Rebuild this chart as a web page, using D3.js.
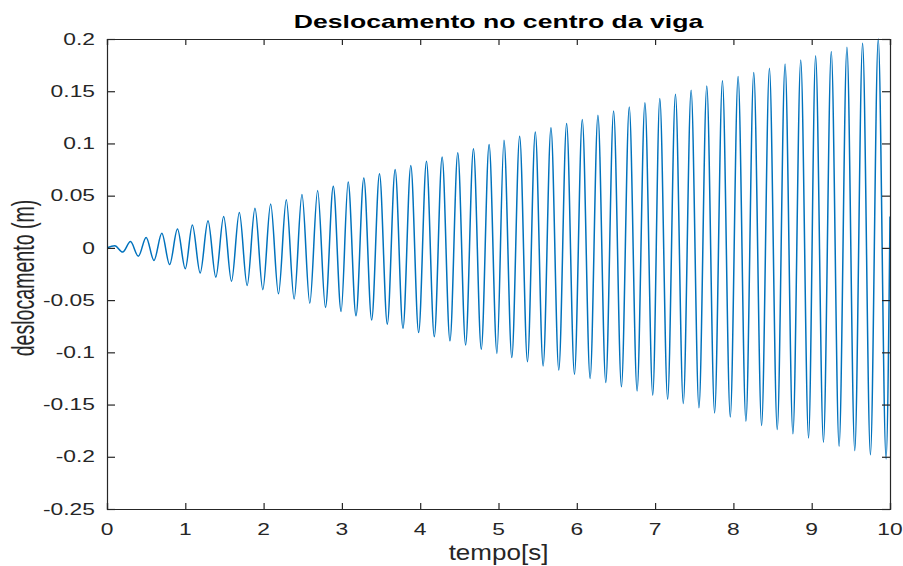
<!DOCTYPE html>
<html>
<head>
<meta charset="utf-8">
<script src="https://cdn.jsdelivr.net/npm/d3@7"></script>
<style>
  body { margin: 0; background: #fff; }
  svg { display: block; font-family: "Liberation Sans", Arial, sans-serif; }
</style>
</head>
<body>
<svg id="chart" width="903" height="566"></svg>
<script>
// values: local maxima and minima of the response
const peakTimes = [0.10, 0.30, 0.50, 0.70, 0.90, 1.09, 1.29, 1.49, 1.69, 1.89,
  2.09, 2.29, 2.49, 2.69, 2.89, 3.08, 3.28, 3.48, 3.68, 3.88,
  4.08, 4.28, 4.48, 4.68, 4.88, 5.07, 5.27, 5.47, 5.67, 5.87,
  6.07, 6.27, 6.47, 6.67, 6.87, 7.06, 7.26, 7.46, 7.66, 7.86,
  8.06, 8.26, 8.46, 8.66, 8.86, 9.05, 9.25, 9.45, 9.65, 9.85];
const peakValues = [0.002, 0.006, 0.010, 0.014, 0.018, 0.022, 0.026, 0.030, 0.034, 0.038,
  0.042, 0.046, 0.051, 0.055, 0.059, 0.063, 0.067, 0.071, 0.075, 0.079,
  0.083, 0.087, 0.091, 0.095, 0.099, 0.103, 0.107, 0.111, 0.115, 0.119,
  0.123, 0.127, 0.131, 0.135, 0.139, 0.143, 0.147, 0.151, 0.155, 0.160,
  0.164, 0.168, 0.172, 0.176, 0.180, 0.184, 0.188, 0.192, 0.196, 0.200];
const troughTimes = [0.20, 0.40, 0.60, 0.80, 1.00, 1.19, 1.39, 1.59, 1.79, 1.99,
  2.19, 2.39, 2.59, 2.79, 2.99, 3.18, 3.38, 3.58, 3.78, 3.98,
  4.18, 4.38, 4.58, 4.78, 4.98, 5.17, 5.37, 5.57, 5.77, 5.97,
  6.17, 6.37, 6.57, 6.77, 6.97, 7.16, 7.36, 7.56, 7.76, 7.96,
  8.16, 8.36, 8.56, 8.76, 8.96, 9.15, 9.35, 9.55, 9.75, 9.95];
const troughValues = [-0.004, -0.008, -0.012, -0.016, -0.020, -0.024, -0.028, -0.032, -0.036, -0.040,
  -0.044, -0.049, -0.053, -0.057, -0.061, -0.065, -0.069, -0.073, -0.077, -0.081,
  -0.085, -0.089, -0.093, -0.097, -0.101, -0.105, -0.109, -0.113, -0.117, -0.121,
  -0.125, -0.129, -0.133, -0.137, -0.141, -0.145, -0.149, -0.153, -0.158, -0.162,
  -0.166, -0.170, -0.174, -0.178, -0.182, -0.186, -0.190, -0.194, -0.198, -0.202];
const startPoint = [0, 0];
const endPoint = [10, 0.03];

const xTicks = [0, 1, 2, 3, 4, 5, 6, 7, 8, 9, 10];
const yTicks = [-0.25, -0.2, -0.15, -0.1, -0.05, 0, 0.05, 0.1, 0.15, 0.2];

const titleText = "Deslocamento no centro da viga";
const xLabelText = "tempo[s]";
const yLabelText = "deslocamento (m)";

// layout
const plotLeft = 107, plotRight = 890, plotTop = 39, plotBottom = 509;
const stretch = 1.4; // text in the picture is wider than it is tall
const axisColor = "#262626";
const lineColor = "#0072BD";

const svg = d3.select("#chart");

const x = d3.scaleLinear().domain([0, 10]).range([plotLeft, plotRight]);
const y = d3.scaleLinear().domain([-0.25, 0.2]).range([plotBottom, plotTop]);

// merge extrema into one series ordered by time
const points = [startPoint]
  .concat(peakTimes.map((t, i) => [t, peakValues[i]]))
  .concat(troughTimes.map((t, i) => [t, troughValues[i]]))
  .concat([endPoint])
  .sort((a, b) => a[0] - b[0]);

svg.append("clipPath").attr("id", "plot-clip")
  .append("rect")
  .attr("x", plotLeft).attr("y", plotTop - 1)
  .attr("width", plotRight - plotLeft).attr("height", plotBottom - plotTop + 2);

const line = d3.line()
  .x(d => x(d[0]))
  .y(d => y(d[1]))
  .curve(d3.curveMonotoneX);

svg.append("path")
  .datum(points)
  .attr("clip-path", "url(#plot-clip)")
  .attr("fill", "none")
  .attr("stroke", lineColor)
  .attr("stroke-width", 1.5)
  .attr("d", line);

// axes, MATLAB style: box with inward ticks on all four sides
const fmt = d => d === 0 ? "0" : String(d);

const gBottom = svg.append("g")
  .attr("transform", `translate(0,${plotBottom})`)
  .call(d3.axisTop(x).tickValues(xTicks).tickSize(6).tickFormat(""));
const gTop = svg.append("g")
  .attr("transform", `translate(0,${plotTop})`)
  .call(d3.axisBottom(x).tickValues(xTicks).tickSize(6).tickFormat(""));
const gLeft = svg.append("g")
  .attr("transform", `translate(${plotLeft},0)`)
  .call(d3.axisRight(y).tickValues(yTicks).tickSize(8).tickFormat(""));
const gRight = svg.append("g")
  .attr("transform", `translate(${plotRight},0)`)
  .call(d3.axisLeft(y).tickValues(yTicks).tickSize(8).tickFormat(""));

[gBottom, gTop, gLeft, gRight].forEach(g => {
  g.select(".domain").attr("stroke", axisColor).attr("stroke-width", 1.2);
  g.selectAll(".tick line").attr("stroke", axisColor).attr("stroke-width", 1.2);
});

// tick labels
svg.append("g").selectAll("text")
  .data(xTicks)
  .join("text")
  .attr("transform", d => `translate(${x(d)},535) scale(${stretch},1)`)
  .attr("text-anchor", "middle")
  .attr("font-size", 16.3)
  .attr("fill", axisColor)
  .text(fmt);

svg.append("g").selectAll("text")
  .data(yTicks)
  .join("text")
  .attr("transform", d => `translate(95,${y(d)}) scale(${stretch},1)`)
  .attr("text-anchor", "end")
  .attr("dy", "0.35em")
  .attr("font-size", 16.3)
  .attr("fill", axisColor)
  .text(fmt);

// title and axis labels
svg.append("text")
  .attr("transform", `translate(${(plotLeft + plotRight) / 2},28) scale(${stretch},1)`)
  .attr("text-anchor", "middle")
  .attr("font-size", 19)
  .attr("font-weight", "bold")
  .attr("fill", "#000")
  .text(titleText);

svg.append("text")
  .attr("transform", `translate(${(plotLeft + plotRight) / 2},560) scale(1.21,1)`)
  .attr("text-anchor", "middle")
  .attr("font-size", 21.5)
  .attr("fill", axisColor)
  .text(xLabelText);

svg.append("text")
  .attr("transform", `translate(34,278) scale(1.57,1) rotate(-90)`)
  .attr("text-anchor", "middle")
  .attr("font-size", 19.6)
  .attr("fill", axisColor)
  .text(yLabelText);
</script>
</body>
</html>
